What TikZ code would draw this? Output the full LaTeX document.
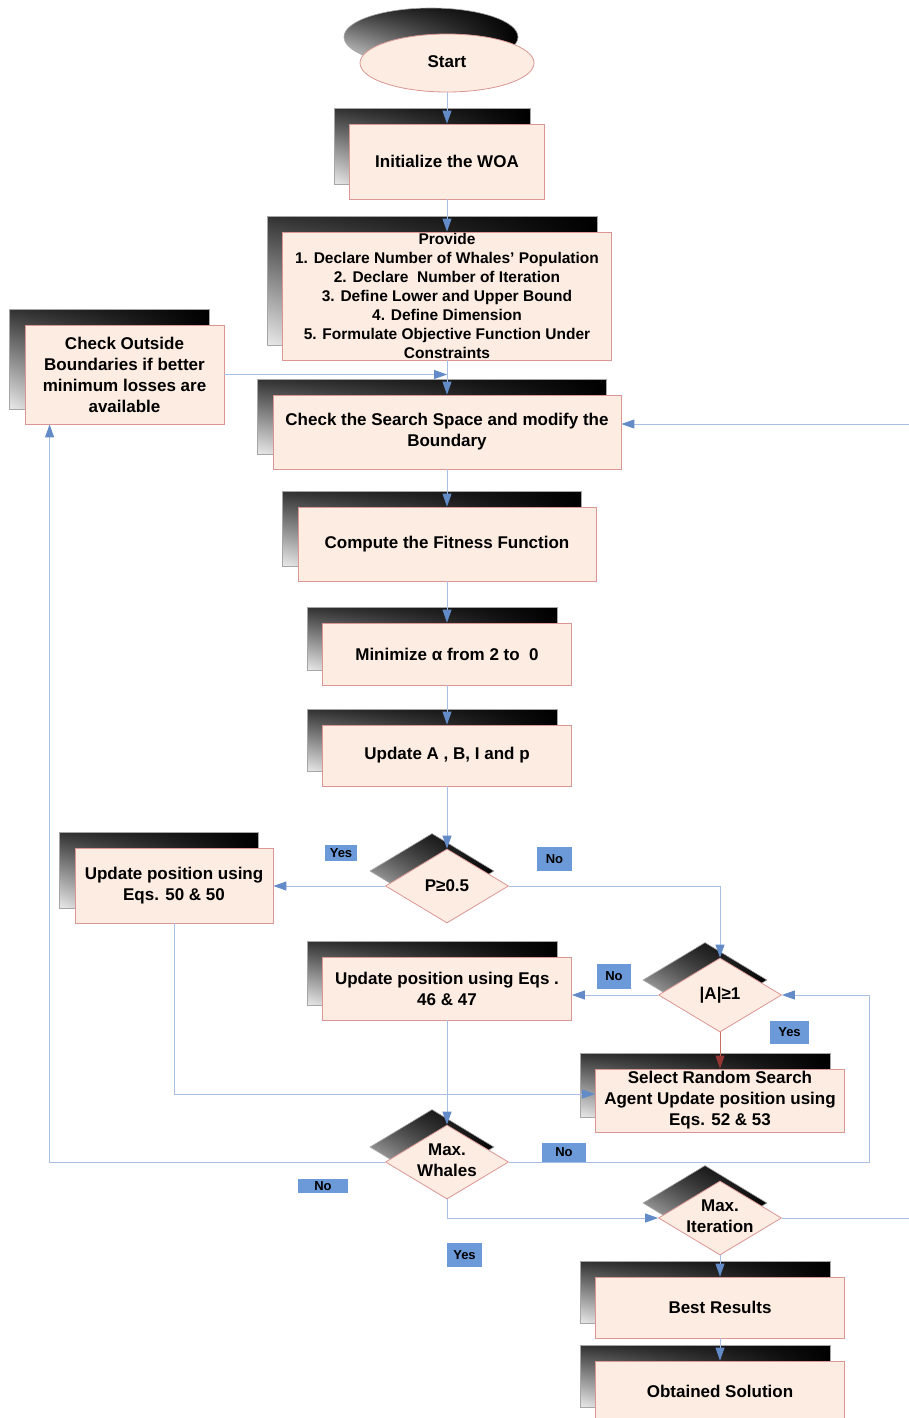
\documentclass[tikz,border=0pt]{standalone}
\usepackage{fontspec}
\setmainfont{Liberation Sans}
\usetikzlibrary{shapes.geometric,arrows.meta,shadings}
\definecolor{boxfill}{RGB}{252,236,225}
\definecolor{boxline}{RGB}{217,150,148}
\definecolor{connblue}{RGB}{168,190,226}
\definecolor{tipblue}{RGB}{98,139,200}
\definecolor{lblblue}{RGB}{108,154,217}
\definecolor{redline}{RGB}{200,110,100}
\definecolor{redtip}{RGB}{150,54,52}
\pgfdeclarelayer{background}
\pgfsetlayers{background,main}
\tikzset{
  proc/.style={draw=boxline, fill=boxfill, line width=0.8pt, inner sep=0pt, align=center,
    font=\bfseries\fontsize{17}{21}\selectfont},
  ell/.style={ellipse, draw=boxline, fill=boxfill, line width=0.8pt, inner sep=0pt,
    minimum width=174, minimum height=58, font=\bfseries\fontsize{17}{21}\selectfont},
  dec/.style={diamond, aspect=1.66, draw=boxline, fill=boxfill, line width=0.8pt, inner sep=0pt,
    minimum width=123, minimum height=74, font=\bfseries\fontsize{17}{21}\selectfont},
  lbl/.style={fill=lblblue, inner sep=0pt, font=\bfseries\fontsize{13}{15}\selectfont},
  link/.style={draw=connblue, line width=0.9pt},
  arr/.style={link, -{Triangle[length=13pt,width=9pt,color=tipblue]}},
  redarr/.style={draw=redline, line width=0.9pt, -{Triangle[length=13pt,width=9pt,color=redtip]}},
  shadowfill/.style={draw=gray!70, line width=0.6pt, upper left=black!80, upper right=black,
    lower right=black, lower left=black!8},
}
\newcommand\rshadow[1]{\begin{pgfonlayer}{background}\shade[shadowfill]
  ([shift={(-15,-15)}]#1.north west) rectangle ([shift={(-15,-15)}]#1.south east);\end{pgfonlayer}}
\newcommand\dshadow[1]{\begin{pgfonlayer}{background}\shade[shadowfill]
  ([shift={(-15,-15)}]#1.north) -- ([shift={(-15,-15)}]#1.east) -- ([shift={(-15,-15)}]#1.south)
  -- ([shift={(-15,-15)}]#1.west) -- cycle;\end{pgfonlayer}}
\newcommand\twol[2]{\makebox[0pt]{\begin{tabular}{@{}c@{}}#1\\#2\end{tabular}}}
\begin{document}
\begin{tikzpicture}[x=1pt,y=-1pt]
\useasboundingbox (0,0) rectangle (909,1418);
\begin{pgfonlayer}{background}
\fill[white] (0,0) rectangle (909,1418);
\end{pgfonlayer}
\clip (0,0) rectangle (909,1418);

% nodes
\node[ell] (st) at (447,63) {\raisebox{3pt}{Start}};
\node[proc, minimum width=195, minimum height=75] (init) at (447,161.5) {Initialize the WOA};
\node[proc, minimum width=329, minimum height=128, font=\bfseries\fontsize{15.5}{19}\selectfont] (prov) at (447,296)
  {Provide\\1. Declare Number of Whales’ Population\\2. Declare~ Number of Iteration\\3. Define Lower and Upper Bound\\4. Define Dimension\\5. Formulate Objective Function Under\\Constraints};
\node[proc, minimum width=199, minimum height=99] (chk) at (124.5,374.5)
  {Check Outside\\Boundaries if better\\minimum losses are\\available};
\node[proc, minimum width=348, minimum height=74] (srch) at (447,432)
  {Check the Search Space and modify the\\Boundary};
\node[proc, minimum width=298, minimum height=74] (fit) at (447,544) {Compute the Fitness Function};
\node[proc, minimum width=249, minimum height=62] (mini) at (447,654) {Minimize α from 2 to~ 0};
\node[proc, minimum width=249, minimum height=61] (upd) at (447,755.5) {Update A , B, I and p};
\node[dec] (dp) at (447,886) {\makebox[0pt]{P≥0.5}};
\node[proc, minimum width=198, minimum height=75] (u50) at (174,885.5) {Update position using\\Eqs. 50 \& 50};
\node[proc, minimum width=249, minimum height=63] (u46) at (447,988.5) {Update position using Eqs .\\46 \& 47};
\node[dec] (da) at (720,995) {\makebox[0pt]{|A|≥1}};
\node[proc, minimum width=249, minimum height=63] (sel) at (720,1100.5)
  {Select Random Search\\Agent Update position using\\Eqs. 52 \& 53};
\node[dec] (dw) at (447,1162) {\twol{Max.}{Whales}};
\node[dec] (di) at (720,1218) {\twol{Max.}{Iteration}};
\node[proc, minimum width=249, minimum height=61] (best) at (720,1307.5) {Best Results};
\node[proc, minimum width=249, minimum height=61] (obt) at (720,1391.5) {Obtained Solution};

% shadows
\begin{pgfonlayer}{background}
\shade[shadowfill] ([shift={(-16,-26)}]st.center) ellipse [x radius=87pt, y radius=29pt];
\end{pgfonlayer}
\rshadow{init}\rshadow{prov}\rshadow{chk}\rshadow{srch}\rshadow{fit}\rshadow{mini}\rshadow{upd}
\rshadow{u50}\rshadow{u46}\rshadow{sel}\rshadow{best}\rshadow{obt}
\dshadow{dp}\dshadow{da}\dshadow{dw}\dshadow{di}

% labels
\node[lbl, minimum width=32, minimum height=16] (y1) at (341,853) {Yes};
\node[lbl, minimum width=35, minimum height=24] (n1) at (554.5,859) {No};
\node[lbl, minimum width=34, minimum height=25] (n2) at (614,976.5) {No};
\node[lbl, minimum width=39, minimum height=23] (y2) at (789.5,1032.5) {Yes};
\node[lbl, minimum width=44, minimum height=19] (n3) at (564,1152.5) {No};
\node[lbl, minimum width=50, minimum height=14] (n4) at (323,1186) {No};
\node[lbl, minimum width=35, minimum height=24] (y3) at (464.5,1255) {Yes};

% connectors
\coordinate (rin) at (909,424);
\coordinate (rl) at (869,1162);
\coordinate (rout) at (909,1218);
\draw[arr] (st.south) -- (init.north);
\draw[arr] (init.south) -- (prov.north);
\draw[arr] (prov.south) -- (srch.north);
\draw[arr] (chk.east) -- (chk.east -| srch.north);
\draw[arr] (rin) -- (rin -| srch.east);
\draw[arr] (srch.south) -- (fit.north);
\draw[arr] (fit.south) -- (mini.north);
\draw[arr] (mini.south) -- (upd.north);
\draw[arr] (upd.south) -- (dp.north);
\draw[arr] (dp.west) -- (dp.west -| u50.east);
\draw[arr] (dp.east) -| (da.north);
\draw[arr] (da.west) -- (da.west -| u46.east);
\draw[redarr] (da.south) -- (sel.north);
\draw[arr] (u50.south) |- ([yshift=6.5pt]sel.west);
\draw[arr] (u46.south) -- (dw.north);
\draw[arr] (dw.west) -| ([xshift=25pt]chk.south west);
\draw[arr] (dw.east) -- (rl) |- (da.east);
\draw[arr] (dw.south) |- (di.west);
\draw[link] (di.east) -- (rout);
\draw[arr] (di.south) -- (best.north);
\draw[arr] (best.south) -- (obt.north);
\end{tikzpicture}
\end{document}
